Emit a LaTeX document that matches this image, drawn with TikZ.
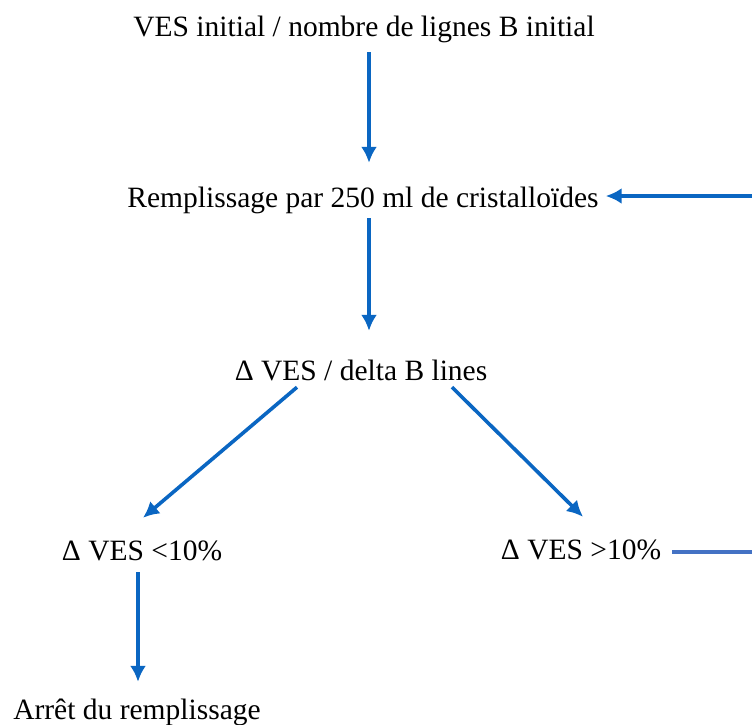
\documentclass[tikz,border=0pt]{standalone}
\usepackage{fontspec}
\setmainfont{Liberation Serif}
\usetikzlibrary{arrows.meta}
\usetikzlibrary{calc}

\definecolor{flowblue}{RGB}{10,102,194}
\definecolor{loopblue}{RGB}{68,114,196}

\begin{document}
\begin{tikzpicture}[x=1pt, y=-1pt,
  lbl/.style={anchor=base, inner sep=0pt, text height=21pt, text depth=7pt,
              font=\fontsize{29.5}{34}\selectfont},
  flow/.style={flowblue, -{Latex[length=16pt,width=16pt]}, line width=3.6pt}]

 \useasboundingbox (0,0) rectangle (752,724);

 %levels
 \node[lbl] (init) at (364,36) {VES initial / nombre de lignes B initial};
 \node[lbl] (remp) at (363,207) {Remplissage par 250 ml de cristalloïdes};
 \node[lbl] (delta) at (361,380) {Δ VES / delta B lines};
 \node[lbl] (low) at (142,560) {Δ VES <10\%};
 \node[lbl] (high) at (581,559) {Δ VES >10\%};
 \node[lbl] (stop) at (137,719) {Arrêt du remplissage};

 %loop ends at the border
 \coordinate (fbtop) at (752,196);
 \coordinate (fbbot) at (752,552);

 %arrows
 \draw[flow] ([xshift=5pt,yshift=-9pt]init.south) -- ([xshift=6pt,yshift=23pt]remp.north);
 \draw[flow] ([xshift=6pt,yshift=-4pt]remp.south) -- ([xshift=8pt,yshift=28pt]delta.north);
 \draw[flow] ([xshift=-64pt]delta.south) -- ([xshift=1pt,yshift=21pt]low.north);
 \draw[flow] ([xshift=91pt]delta.south) -- ([xshift=2pt,yshift=21pt]high.north);
 \draw[flow] ([xshift=-4pt,yshift=-5pt]low.south) -- ([xshift=1pt,yshift=16pt]stop.north);

 %return loop
 \draw[flow, shorten >=7pt] (fbtop) -- (remp.east |- fbtop);
 \draw[loopblue, line width=3.6pt, shorten <=11pt] (high.east) -- (fbbot);

\end{tikzpicture}
\end{document}
